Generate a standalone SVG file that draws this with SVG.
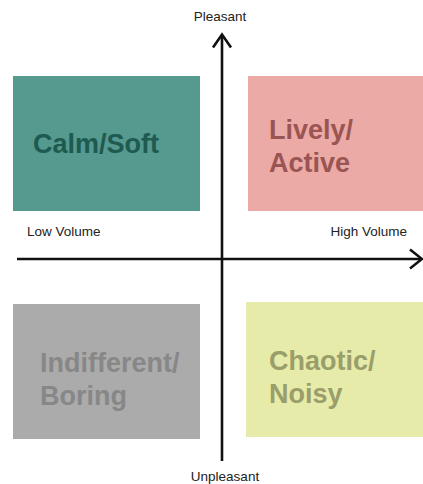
<svg xmlns="http://www.w3.org/2000/svg" width="423" height="484" viewBox="0 0 423 484">
  <style>
    .axis { stroke: #111; stroke-width: 2.6; fill: none; stroke-linecap: butt; stroke-linejoin: miter; }
    .label { font-family: "Liberation Sans", Arial, sans-serif; font-size: 13.5px; fill: #222; }
    .big { font-family: "Liberation Sans", Arial, sans-serif; font-size: 27px; font-weight: bold; }
  </style>
  <rect width="423" height="484" fill="#ffffff"/>

  <g id="calm-soft">
    <rect x="13" y="76" width="187" height="135" fill="#55998f"/>
    <text class="big" x="33" y="153" fill="#1e5a4f">Calm/Soft</text>
  </g>

  <g id="lively-active">
    <rect x="248" y="76" width="175" height="135" fill="#ebaaa6"/>
    <text class="big" x="269" y="139" fill="#9a5553">Lively/</text>
    <text class="big" x="269" y="172" fill="#9a5553">Active</text>
  </g>

  <g id="indifferent-boring">
    <rect x="13" y="304" width="187" height="135" fill="#ababab"/>
    <text class="big" x="40" y="372" fill="#878787">Indifferent/</text>
    <text class="big" x="40" y="405" fill="#878787">Boring</text>
  </g>

  <g id="chaotic-noisy">
    <rect x="246" y="302" width="177" height="135" fill="#e6eba9"/>
    <text class="big" x="269" y="370" fill="#999e6b">Chaotic/</text>
    <text class="big" x="269" y="403" fill="#999e6b">Noisy</text>
  </g>

  <g id="axes">
    <line class="axis" x1="222" y1="35" x2="222" y2="461"/>
    <polyline class="axis" points="213,47.5 222,34.5 231,47.5"/>
    <line class="axis" x1="17" y1="259" x2="421" y2="259"/>
    <polyline class="axis" points="410,249.5 422,259 410,268.5"/>
  </g>

  <g id="axis-labels">
    <text class="label" x="220" y="21" text-anchor="middle">Pleasant</text>
    <text class="label" x="225" y="481" text-anchor="middle">Unpleasant</text>
    <text class="label" x="27" y="236">Low Volume</text>
    <text class="label" x="407" y="236" text-anchor="end">High Volume</text>
  </g>
</svg>
